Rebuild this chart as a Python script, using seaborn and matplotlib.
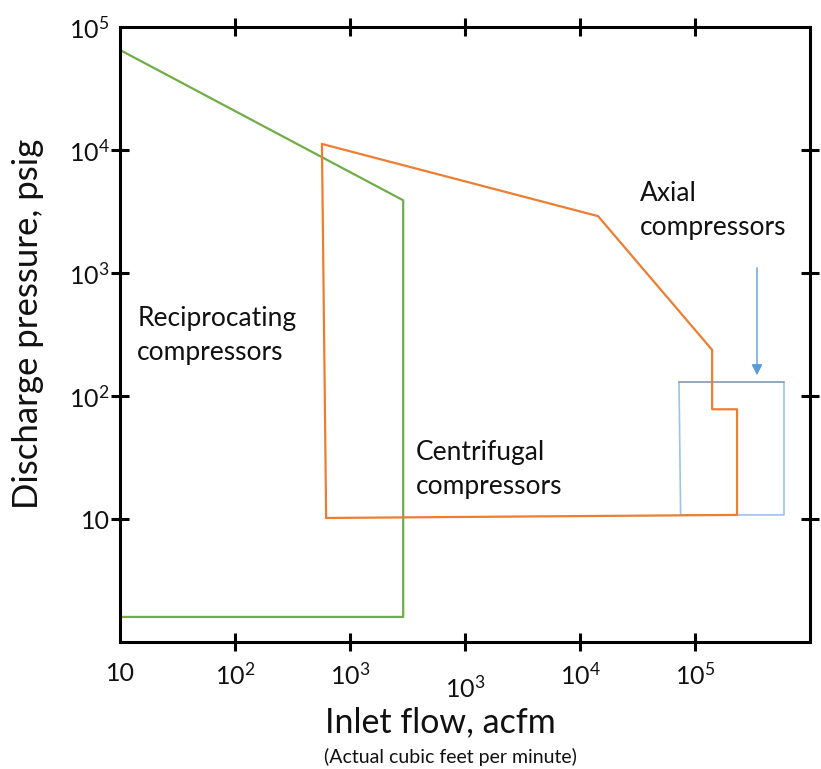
import matplotlib
matplotlib.use("Agg")
import matplotlib.pyplot as plt
import matplotlib.ticker as mticker
import seaborn as sns
import pandas as pd

sns.set_theme(style="white")
plt.rcParams['font.family'] = ['Lato', 'DejaVu Sans']
plt.rcParams['mathtext.fontset'] = 'custom'
plt.rcParams['mathtext.rm'] = 'Lato'
plt.rcParams['mathtext.it'] = 'Lato'

# Data (inlet flow acfm, discharge pressure psig)
recip_x = [10, 2900, 2900, 10]
recip_y = [65000, 3900, 1.6, 1.6]

centr_x = [620, 570, 143500, 1.41e6, 1.41e6, 2.32e6, 2.32e6, 620]
centr_y = [10.2, 11200, 2900, 237, 78, 78, 10.8, 10.2]

axial_x = [7.26e5, 7.5e5, 5.94e6, 5.94e6]
axial_y = [130, 10.8, 10.8, 130]
axial_top_x = [7.26e5, 5.94e6]
axial_top_y = [130, 130]

arrow_x = 3.46e6
arrow_y0, arrow_y1 = 1160, 140

x_ticks = [1e1, 1e2, 1e3, 1e4, 1e5, 1e6]
x_labels = ["10", "$10^2$", "$10^3$", "$10^3$", "$10^4$", "$10^5$"]
y_ticks = [1e1, 1e2, 1e3, 1e4, 1e5]
y_labels = ["10", "$10^2$", "$10^3$", "$10^4$", "$10^5$"]

green = "#70AD47"
orange = "#ED7D31"
blue = "#9DC3E6"
blue_dark = "#8497B0"
arrow_c = "#5B9BD5"

fig = plt.figure(figsize=(8.21, 7.69), dpi=100)
ax = fig.add_axes([0.1462, 0.1651, 0.8404, 0.7998])

df_r = pd.DataFrame({"x": recip_x, "y": recip_y})
df_c = pd.DataFrame({"x": centr_x, "y": centr_y})
df_a = pd.DataFrame({"x": axial_x, "y": axial_y})
df_at = pd.DataFrame({"x": axial_top_x, "y": axial_top_y})

sns.lineplot(data=df_a, x="x", y="y", sort=False, estimator=None, color=blue, lw=1.2, ax=ax)
sns.lineplot(data=df_at, x="x", y="y", sort=False, estimator=None, color=blue_dark, lw=1.2, ax=ax)
sns.lineplot(data=df_r, x="x", y="y", sort=False, estimator=None, color=green, lw=1.6, ax=ax)
sns.lineplot(data=df_c, x="x", y="y", sort=False, estimator=None, color=orange, lw=1.6, ax=ax)

ax.annotate("", xy=(arrow_x, arrow_y1), xytext=(arrow_x, arrow_y0),
            arrowprops=dict(arrowstyle="-|>", color=arrow_c, lw=1.0, mutation_scale=16))

ax.set_xscale("log")
ax.set_yscale("log")
ax.set_xlim(1e1, 1e7)
ax.set_ylim(1e0, 1e5)
ax.xaxis.set_minor_locator(mticker.NullLocator())
ax.yaxis.set_minor_locator(mticker.NullLocator())
ax.set_xticks(x_ticks)
ax.set_xticklabels(x_labels)
ax.set_yticks(y_ticks)
ax.set_yticklabels(y_labels)

ax.tick_params(axis="both", which="major", direction="inout", length=13, width=2.2,
               color="black", top=True, right=True, bottom=True, left=True,
               labelsize=18, labelcolor="#111111")
ax.tick_params(axis="x", pad=8)
ax.tick_params(axis="y", pad=1)

xt = ax.xaxis.get_major_ticks()
xt[0].tick1line.set_visible(False)
xt[0].tick2line.set_visible(False)
xt[3].set_pad(17)
yt = ax.yaxis.get_major_ticks()
yt[-1].tick1line.set_visible(False)
yt[-1].tick2line.set_visible(False)

for s in ax.spines.values():
    s.set_color("black")
    s.set_linewidth(2.2)

ax.set_xlabel("")
ax.set_ylabel("")
fig.text(0.034, 0.579, "Discharge pressure, psig", rotation=90, ha="center", va="center",
         fontsize=25, color="#111111")
fig.text(0.536, 0.061, "Inlet flow, acfm", ha="center", va="center", fontsize=24.5, color="#111111")
fig.text(0.549, 0.016, "(Actual cubic feet per minute)", ha="center", va="center", fontsize=14, color="#111111")

ax.text(14.1, 313, "Reciprocating\ncompressors", ha="left", va="center", fontsize=19,
        color="#111111", linespacing=1.45)
ax.text(3750, 25.5, "Centrifugal\ncompressors", ha="left", va="center", fontsize=19,
        color="#111111", linespacing=1.45)
ax.text(3.32e5, 3250, "Axial\ncompressors", ha="left", va="center", fontsize=19,
        color="#111111", linespacing=1.45)

fig.savefig("out.png", dpi=100)
